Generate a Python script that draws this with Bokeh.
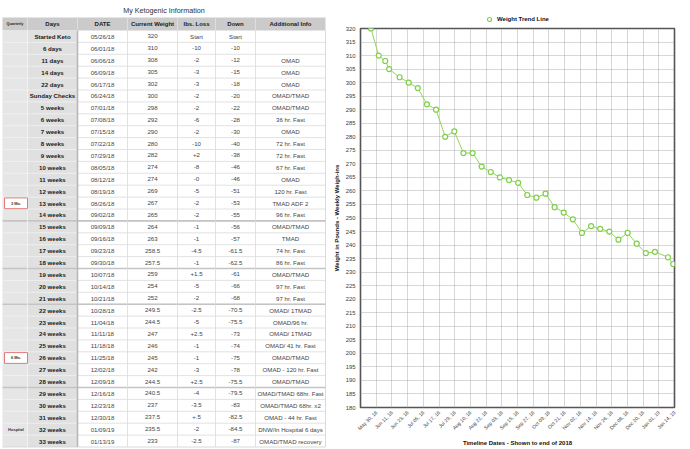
import math
from datetime import datetime
import numpy as np
from bokeh.plotting import figure
from bokeh.layouts import row, column
from bokeh.models import (ColumnDataSource, FixedTicker, SingleIntervalTicker,
                          Legend, LegendItem, Range1d)
from bokeh.core.properties import value
from bokeh.embed import file_html
from bokeh.resources import INLINE

# ---------------- data ----------------
title_text = "My Ketogenic Information"
headers = ["Quarterly", "Days", "DATE", "Current Weight", "lbs. Loss", "Down", "Additional Info"]
days = ["Started Keto", "6 days", "11 days", "14 days", "22 days", "Sunday Checks",
        "5 weeks", "6 weeks", "7 weeks", "8 weeks", "9 weeks", "10 weeks", "11 weeks",
        "12 weeks", "13 weeks", "14 weeks", "15 weeks", "16 weeks", "17 weeks", "18 weeks",
        "19 weeks", "20 weeks", "21 weeks", "22 weeks", "23 weeks", "24 weeks", "25 weeks",
        "26 weeks", "27 weeks", "28 weeks", "29 weeks", "30 weeks", "31 weeks", "32 weeks",
        "33 weeks"]
dates = ["05/26/18", "06/01/18", "06/06/18", "06/09/18", "06/17/18", "06/24/18",
         "07/01/18", "07/08/18", "07/15/18", "07/22/18", "07/29/18", "08/05/18", "08/12/18",
         "08/19/18", "08/26/18", "09/02/18", "09/09/18", "09/16/18", "09/23/18", "09/30/18",
         "10/07/18", "10/14/18", "10/21/18", "10/28/18", "11/04/18", "11/11/18", "11/18/18",
         "11/25/18", "12/02/18", "12/09/18", "12/16/18", "12/23/18", "12/30/18", "01/09/19",
         "01/13/19"]
weights = [320, 310, 308, 305, 302, 300, 298, 292, 290, 280, 282, 274, 274, 269, 267, 265,
           264, 263, 258.5, 257.5, 259, 254, 252, 249.5, 244.5, 247, 246, 245, 242, 244.5,
           240.5, 237, 237.5, 235.5, 233]
lbs_loss = ["Start", "-10", "-2", "-3", "-3", "-2", "-2", "-6", "-2", "-10", "+2", "-8", "-0",
            "-5", "-2", "-2", "-1", "-1", "-4.5", "-1", "+1.5", "-5", "-2", "-2.5", "-5",
            "+2.5", "-1", "-1", "-3", "+2.5", "-4", "-3.5", "+.5", "-2", "-2.5"]
down = ["Start", "-10", "-12", "-15", "-18", "-20", "-22", "-28", "-30", "-40", "-38", "-46",
        "-46", "-51", "-53", "-55", "-56", "-57", "-61.5", "-62.5", "-61", "-66", "-68",
        "-70.5", "-75.5", "-73", "-74", "-75", "-78", "-75.5", "-79.5", "-83", "-82.5",
        "-84.5", "-87"]
info = ["", "", "OMAD", "OMAD", "OMAD", "OMAD/TMAD", "OMAD/TMAD", "36 hr. Fast", "OMAD",
        "72 hr. Fast", "72 hr. Fast", "67 hr. Fast", "OMAD", "120 hr. Fast", "TMAD ADF 2",
        "96 hr. Fast", "OMAD/TMAD", "TMAD", "74 hr. Fast", "86 hr. Fast", "OMAD/TMAD",
        "97 hr. Fast", "97 hr. Fast", "OMAD/ 1TMAD", "OMAD/96 hr.", "OMAD/ 1TMAD",
        "OMAD/ 41 hr. Fast", "OMAD/TMAD", "OMAD - 120 hr. Fast", "OMAD/TMAD",
        "OMAD/TMAD 68hr. Fast", "OMAD/TMAD 68hr. x2", "OMAD - 44 hr. Fast",
        "DNW/In Hospital 6 days", "OMAD/TMAD recovery"]
quarter_labels = ["3 Mo.", "6 Mo.", "Hospital"]
quarter_rows = ["13 weeks", "26 weeks", "32 weeks"]
quarter_boxed = [True, True, False]
group_end_rows = ["14 weeks", "18 weeks", "21 weeks", "28 weeks"]

legend_label = "Weight Trend Line"
y_title = "Weight in Pounds - Weekly Weigh-ins"
x_title = "Timeline Dates - Shown to end of 2018"
x_tick_labels = ["May 30, 18", "Jun 11, 18", "Jun 23, 18", "Jul 05, 18", "Jul 17, 18",
                 "Jul 29, 18", "Aug 10, 18", "Aug 22, 18", "Sep 03, 18", "Sep 15, 18",
                 "Sep 27, 18", "Oct 09, 18", "Oct 21, 18", "Nov 02, 18", "Nov 14, 18",
                 "Nov 26, 18", "Dec 08, 18", "Dec 20, 18", "Jan 01, 19", "Jan 14, 19"]
axis_start = "05/18/18"
axis_end = "01/14/19"
y_min, y_max, y_step = 180, 320, 5

FONT = "Liberation Sans"
GREEN_LINE = "#8fd65c"
GREEN_MARK = "#7fcf48"

# ---------------- table ----------------
TW, TH = 330, 449
t = figure(width=TW, height=TH, x_range=Range1d(0, TW), y_range=Range1d(TH, 0),
           output_backend="svg", toolbar_location=None, min_border=0,
           x_axis_location=None, y_axis_location=None)
t.grid.visible = False
t.outline_line_color = None
t.background_fill_color = "white"
t.border_fill_color = "white"

edges = [2, 27, 77, 127, 177, 215, 255, 325]
head_top, head_h = 17, 13
row_top, row_h = 30.0, 11.9
n = len(days)
row_bottom = row_top + n * row_h
centers_x = [(edges[i] + edges[i + 1]) / 2 for i in range(len(edges) - 1)]

t.text(x=[(edges[0] + edges[-1]) / 2], y=[10], text=[title_text], text_align="center",
       text_baseline="middle", text_font=value(FONT), text_font_size="7.2px",
       text_color="#303030")

t.quad(left=[edges[0]], right=[edges[-1]], top=[head_top], bottom=[row_top],
       fill_color="#cbcbcb", line_color=None)
t.quad(left=[edges[0]], right=[edges[1]], top=[row_top], bottom=[row_bottom],
       fill_color="#e6e6e6", line_color=None)
t.quad(left=[edges[1]], right=[edges[2]], top=[row_top], bottom=[row_bottom],
       fill_color="#e0e0e0", line_color=None)

ys = [row_top + k * row_h for k in range(1, n)]
t.segment(x0=[edges[2]] * len(ys), x1=[edges[-1]] * len(ys), y0=ys, y1=ys,
          line_color="#dadada", line_width=0.8)
t.segment(x0=[edges[0]] * len(ys), x1=[edges[2]] * len(ys), y0=ys, y1=ys,
          line_color="#f2f2f2", line_width=0.8)
gys = [row_top + (days.index(r) + 1) * row_h for r in group_end_rows]
t.segment(x0=[edges[0]] * len(gys), x1=[edges[-1]] * len(gys), y0=gys, y1=gys,
          line_color="#c4c4c4", line_width=1.6)
t.segment(x0=[edges[0]], x1=[edges[-1]], y0=[row_bottom], y1=[row_bottom],
          line_color="#d0d0d0", line_width=0.8)

vx = edges[3:-1]
t.segment(x0=vx, x1=vx, y0=[row_top] * len(vx), y1=[row_bottom] * len(vx),
          line_color="#dadada", line_width=0.8)
t.segment(x0=[edges[-1]], x1=[edges[-1]], y0=[row_top], y1=[row_bottom],
          line_color="#d0d0d0", line_width=0.8)
hx = edges[1:-1]
t.segment(x0=hx, x1=hx, y0=[head_top] * len(hx), y1=[row_top] * len(hx),
          line_color="#e2e2e2", line_width=0.8)
t.segment(x0=[edges[1]], x1=[edges[1]], y0=[row_top], y1=[row_bottom],
          line_color="#f4f4f4", line_width=0.8)
t.segment(x0=[edges[2]], x1=[edges[2]], y0=[row_top], y1=[row_bottom],
          line_color="#b8b8b8", line_width=1.6)

hy = head_top + head_h / 2
t.text(x=centers_x[1:], y=[hy] * (len(headers) - 1), text=headers[1:], text_align="center",
       text_baseline="middle", text_font=value(FONT), text_font_size="6px",
       text_font_style="bold", text_color="#202020")
t.text(x=[centers_x[0]], y=[hy], text=[headers[0]], text_align="center",
       text_baseline="middle", text_font=value(FONT), text_font_size="3.8px",
       text_font_style="bold", text_color="#202020")

cy = [row_top + (k + 0.5) * row_h for k in range(n)]
src = ColumnDataSource(dict(y=cy, days=days, dates=dates,
                            w=[("%g" % w) for w in weights],
                            loss=lbs_loss, down=down, info=info))
t.text(x=centers_x[1], y="y", text="days", source=src, text_align="center",
       text_baseline="middle", text_font=value(FONT), text_font_size="6.1px",
       text_font_style="bold", text_color="#202020")
for ci, col in zip(range(2, 7), ["dates", "w", "loss", "down", "info"]):
    t.text(x=centers_x[ci], y="y", text=col, source=src, text_align="center",
           text_baseline="middle", text_font=value(FONT), text_font_size="6.1px",
           text_color="#444444")

qi = [days.index(r) for r in quarter_rows]
bi = [i for i, b in zip(qi, quarter_boxed) if b]
t.quad(left=[edges[0] + 2] * len(bi), right=[edges[1]] * len(bi),
       top=[row_top + i * row_h + 0.8 for i in bi],
       bottom=[row_top + (i + 1) * row_h - 0.3 for i in bi],
       fill_color="white", line_color="#e07b7b", line_width=1)
t.text(x=[centers_x[0] + 1] * len(qi), y=[cy[i] for i in qi], text=quarter_labels,
       text_align="center", text_baseline="middle", text_font=value(FONT),
       text_font_size="4px", text_font_style="bold", text_color="#303030")

# ---------------- chart ----------------
d0 = datetime.strptime(axis_start, "%m/%d/%y")
d1 = datetime.strptime(axis_end, "%m/%d/%y")
span = (d1 - d0).days
n_ticks = len(x_tick_labels)
step = span / n_ticks
xs = [(datetime.strptime(d, "%m/%d/%y") - d0).days / step for d in dates]
csrc = ColumnDataSource(dict(x=xs, y=weights))

LEG_H = 24
c = figure(width=360, height=TH - LEG_H, x_range=Range1d(0, n_ticks),
           y_range=Range1d(y_min, y_max),
           output_backend="svg", toolbar_location=None,
           min_border_left=29, min_border_right=16, min_border_top=4, min_border_bottom=42)
c.outline_line_color = "#555555"
c.outline_line_width = 1.6
c.background_fill_color = "white"
c.border_fill_color = "white"

tick_pos = list(range(1, n_ticks + 1))
c.xaxis.ticker = FixedTicker(ticks=tick_pos)
c.xaxis.major_label_overrides = {tp: lab for tp, lab in zip(tick_pos, x_tick_labels)}
c.xaxis.major_label_orientation = math.pi / 4
c.yaxis.ticker = SingleIntervalTicker(interval=y_step, num_minor_ticks=0)
c.xgrid.ticker = FixedTicker(ticks=tick_pos)

for ax in (c.xaxis[0], c.yaxis[0]):
    ax.axis_line_color = None
    ax.major_tick_line_color = None
    ax.minor_tick_line_color = None
    ax.major_tick_out = 0
    ax.major_tick_in = 0
    ax.major_label_text_font = FONT
    ax.major_label_text_color = "#3a3a3a"
    ax.axis_label_text_font = FONT
    ax.axis_label_text_font_size = "6px"
    ax.axis_label_text_font_style = "bold"
    ax.axis_label_text_color = "#111111"

c.xaxis.major_label_text_font_size = "5px"
c.yaxis.major_label_text_font_size = "5.8px"
c.xaxis.axis_label = x_title
c.yaxis.axis_label = y_title
c.xaxis.major_label_standoff = 4
c.xaxis.axis_label_standoff = 4
c.yaxis.major_label_standoff = 5
c.yaxis.axis_label_standoff = 3

for g in (c.xgrid[0], c.ygrid[0]):
    g.grid_line_color = "#9a9a9a"
    g.grid_line_dash = "1 1"
    g.grid_line_width = 0.8

c.line("x", "y", source=csrc, line_color=GREEN_LINE, line_width=1)
c.scatter("x", "y", source=csrc, marker="circle", size=5, fill_color="white",
          line_color=GREEN_MARK, line_width=1.2)

# ---------------- legend strip above the chart ----------------
lg = figure(width=360, height=LEG_H, x_range=Range1d(-2, -1), y_range=Range1d(-2, -1),
            output_backend="svg", toolbar_location=None, min_border=0,
            x_axis_location=None, y_axis_location=None)
lg.grid.visible = False
lg.outline_line_color = None
lg.background_fill_color = "white"
lg.border_fill_color = "white"
lsc = lg.scatter("x", "y", source=csrc, marker="circle", size=5, fill_color="white",
                 line_color=GREEN_MARK, line_width=1.2)
legend = Legend(items=[LegendItem(label=legend_label, renderers=[lsc])],
                location=(124, 0), orientation="horizontal",
                padding=0, margin=0, spacing=0, glyph_width=10, glyph_height=10,
                label_standoff=3, label_height=10, label_text_font=FONT,
                label_text_font_size="6px", label_text_baseline="middle",
                label_text_font_style="bold", label_text_color="#111111",
                border_line_color=None, background_fill_alpha=0)
lg.add_layout(legend)

layout = row(t, column(lg, c, spacing=0), spacing=0)
open("out.html", "w").write(file_html(layout, INLINE))
